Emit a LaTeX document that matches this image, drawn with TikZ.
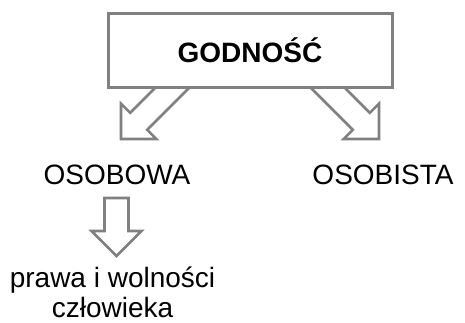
\documentclass[tikz,border=0pt]{standalone}
\usepackage{fontspec}
\setmainfont{Liberation Sans}
\usetikzlibrary{positioning,calc}

\definecolor{framegray}{RGB}{128,128,128}

% hollow block arrow: #1 = tail, #2 = tip
\newcommand{\hollowarrow}[2]{%
	\coordinate (#1-h) at ($(#2)!25pt!(#1)$);
	\draw[blockarrow] ($(#1)!12pt!90:(#2)$) -- ($(#1-h)!12pt!90:(#2)$)
	-- ($(#1-h)!25pt!90:(#2)$) -- (#2) -- ($(#1-h)!25pt!-90:(#2)$)
	-- ($(#1-h)!12pt!-90:(#2)$) -- ($(#1)!12pt!-90:(#2)$) -- cycle;
}

\begin{document}
\begin{tikzpicture}[x=1pt,y=-1pt,
	blockarrow/.style={draw=framegray,line width=2.6pt,fill=white},
	titlebox/.style={draw=framegray,line width=3pt,fill=white,
		minimum width=284pt,minimum height=74pt,
		font=\bfseries\fontsize{28}{30}\selectfont},
	label/.style={inner sep=0pt,align=center,font=\fontsize{28}{30}\selectfont}]
	\useasboundingbox (0,0) rectangle (465,322);
	
	%arrows leaving the title box (tails hidden under it)
	\coordinate (lefttail) at (188,72);
	\coordinate (lefttip) at (121,139);
	\coordinate (righttail) at (312,72);
	\coordinate (righttip) at (379,139);
	\hollowarrow{lefttail}{lefttip}
	\hollowarrow{righttail}{righttip}
	
	\node[titlebox] (godnosc) at (250,50) {GODNOŚĆ};
	
	\node[label] (osobowa) at (117,174.5) {OSOBOWA};
	\node[label] (osobista) at (383,174.5) {OSOBISTA};
	
	%arrow down to the rights
	\coordinate (downtail) at (116.5,198);
	\coordinate (downtip) at (116.5,256);
	\hollowarrow{downtail}{downtip}
	
	\node[label,text depth=0pt,anchor=south] (prawa) at (112.5,318) {prawa i wolności\\człowieka};
	
\end{tikzpicture}
\end{document}
